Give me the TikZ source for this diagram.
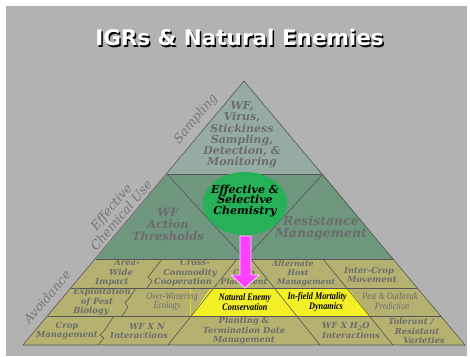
\documentclass[tikz,border=0pt]{standalone}
\usepackage{fontspec}
\newfontfamily\titlefont{DejaVu Sans}
\newfontfamily\serifbi{DejaVu Serif}
\newfontfamily\narrowserif[FakeStretch=0.82]{Liberation Serif}
\definecolor{bggrey}{RGB}{178,178,178}
\definecolor{topfill}{RGB}{150,172,163}
\definecolor{midfill}{RGB}{111,151,125}
\definecolor{botfill}{RGB}{181,177,112}
\definecolor{yelfill}{RGB}{244,240,40}
\definecolor{ellfill}{RGB}{38,176,88}
\definecolor{arrfill}{RGB}{255,64,255}
\definecolor{arrline}{RGB}{255,215,255}
\definecolor{txtgrey}{RGB}{108,108,108}
\definecolor{sidegrey}{RGB}{118,118,118}
\definecolor{lineg}{RGB}{85,85,85}
\tikzset{
  lbl/.style={font=\serifbi\itshape\fontsize{12.5}{13}\selectfont, text=sidegrey, align=center, inner sep=0},
  toptxt/.style={font=\serifbi\bfseries\itshape\fontsize{11}{11.2}\selectfont, text=txtgrey, align=center, inner sep=0},
  midtxt/.style={font=\serifbi\bfseries\itshape\fontsize{12}{12}\selectfont, text=txtgrey, align=center, inner sep=0},
  elltxt/.style={font=\serifbi\bfseries\itshape\fontsize{11}{10.8}\selectfont, text=black, align=center, inner sep=0},
  cell/.style={font=\serifbi\bfseries\itshape\fontsize{8.4}{9.3}\selectfont, text=txtgrey, align=center, inner sep=0},
  smallcell/.style={font=\serifbi\bfseries\itshape\fontsize{7.9}{9}\selectfont, text=txtgrey, align=center, inner sep=0},
  ncell/.style={font=\narrowserif\itshape\fontsize{10}{9.3}\selectfont, text=txtgrey, align=center, inner sep=0},
  ycell/.style={font=\narrowserif\bfseries\itshape\fontsize{10}{9.3}\selectfont, text=black, align=center, inner sep=0},
  divider/.style={draw=lineg, line width=0.6pt},
}
\begin{document}
\begin{tikzpicture}[x=1pt,y=-1pt]
\useasboundingbox (0,0) rectangle (470,356);
\fill[white] (0,0) rectangle (470,356);
\fill[bggrey] (6,6) rectangle (467,356);
% title
\node[font=\titlefont\bfseries\fontsize{21.5}{21.5}\selectfont, text=black] (titleshadow) at (241,39) {IGRs \& Natural Enemies};
\node[font=\titlefont\bfseries\fontsize{21.5}{21.5}\selectfont, text=white] (title) at (239.5,37.5) {IGRs \& Natural Enemies};
% coordinates
\coordinate (apex) at (244,81);
\coordinate (tl) at (167,174);
\coordinate (tr) at (323,174);
\coordinate (ml) at (96,259);
\coordinate (mr) at (393,259);
\coordinate (r1l) at (71.4,288);
\coordinate (r1r) at (417.3,288);
\coordinate (r2l) at (47.6,316);
\coordinate (r2r) at (440.7,316);
\coordinate (bl) at (23,345);
\coordinate (br) at (465,345);
\coordinate (mc) at (245,259);
% fills
\fill[topfill] (apex) -- (tr) -- (tl) -- cycle;
\fill[midfill] (tl) -- (tr) -- (mr) -- (ml) -- cycle;
\fill[botfill] (ml) -- (mr) -- (br) -- (bl) -- cycle;
\fill[yelfill] (211,288) -- (348,288) -- (370,316) -- (191,316) -- cycle;
\draw[yelfill!90!black, line width=0.6pt] (190,288) -- (190,316);
% outline
\draw[divider] (apex) -- (br) -- (bl) -- cycle;
\draw[divider] (tl) -- (tr);
\draw[divider] (ml) -- (mr);
\draw[divider] (r1l) -- (r1r);
\draw[divider] (r2l) -- (r2r);
\draw[divider] (tl) -- (mc) -- (tr);
\draw[divider] (237,259) -- (168,345);
\draw[divider] (251,259) -- (320,345);
\draw[divider] (323,259) -- (393,345);
\draw[divider] (162,259) -- (152,272) -- (148,277) -- (152,281) -- (147,288);
\draw[divider] (136,288) -- (130,297) -- (125,303) -- (128,307) -- (122,316);
\draw[divider] (114,316) -- (104,331) -- (100,335) -- (104,338) -- (98,345);
% side labels
\node[lbl, rotate=50] (sampling) at (196,119) {Sampling};
\node[lbl, rotate=50, font=\serifbi\itshape\fontsize{12.5}{12}\selectfont] (chemuse) at (116,211) {Effective\\Chemical Use};
\node[lbl, rotate=50] (avoid) at (47,297) {Avoidance};
% top and middle texts
\node[toptxt] (topt) at (242,135) {WF,\\Virus,\\Stickiness\\Sampling,\\Detection, \&\\Monitoring};
\node[midtxt, font=\serifbi\bfseries\itshape\fontsize{11.5}{12}\selectfont] (thresh) at (168,224) {WF\\Action\\Thresholds};
\node[midtxt, font=\serifbi\bfseries\itshape\fontsize{12.5}{11.8}\selectfont] (resist) at (321,228) {Resistance\\Management};
% row 1
\node[cell] (area) at (112,273) {\hspace*{30pt}Area-\\\hspace*{18pt}Wide\\Impact};
\node[cell] (cross) at (183,273) {\hspace*{24pt}Cross-\\\hspace*{14pt}Commodity\\Cooperation};
\node[smallcell] (cropplace) at (244,277) {Crop\\Placement};
\node[smallcell] (altern) at (293,273) {Alternate\\\hspace*{10pt}Host\\\hspace*{26pt}Management};
\node[cell] (intercrop) at (369,275) {Inter-Crop\\\hspace*{6pt}Movement};
% row 2
\node[cell] (exploit) at (91,302) {\hspace*{22pt}Exploitation\\\hspace*{12pt}of Pest\\Biology};
\node[ncell] (overw) at (167,301.5) {\hspace*{10pt}Over-Wintering\\Ecology};
\node[ycell] (natenemy) at (245,302) {Natural Enemy\\Conservation};
\node[ycell] (infield) at (317,302) {In-field Mortality\\\hspace*{18pt}Dynamics};
\node[ncell] (pest) at (390,301) {Pest \& Outbreak\\\hspace*{4pt}Prediction};
% row 3
\node[cell] (cropman) at (67,331) {Crop\\Management};
\node[cell] (wfxn) at (139,331) {\hspace*{16pt}WF X N\\Interactions};
\node[cell] (planting) at (244,331) {Planting \&\\Termination Date\\Management};
\node[cell] (wfxh) at (346,330.5) {WF X H\textsubscript{2}O\\\hspace*{10pt}Interactions};
\node[cell] (toler) at (411,331) {Tolerant /\\\hspace*{12pt}Resistant\\\hspace*{26pt}Varieties};
% ellipse and arrow
\fill[ellfill] (245,203.5) ellipse [x radius=42, y radius=31.5];
\node[elltxt] (chem) at (245,201) {Effective \&\\Selective\\Chemistry};
\draw[arrline, fill=arrfill, line width=0.8pt] (240,236) -- (251,236) -- (251,275) -- (259,275) -- (245,288) -- (231,275) -- (240,275) -- cycle;
\end{tikzpicture}
\end{document}
